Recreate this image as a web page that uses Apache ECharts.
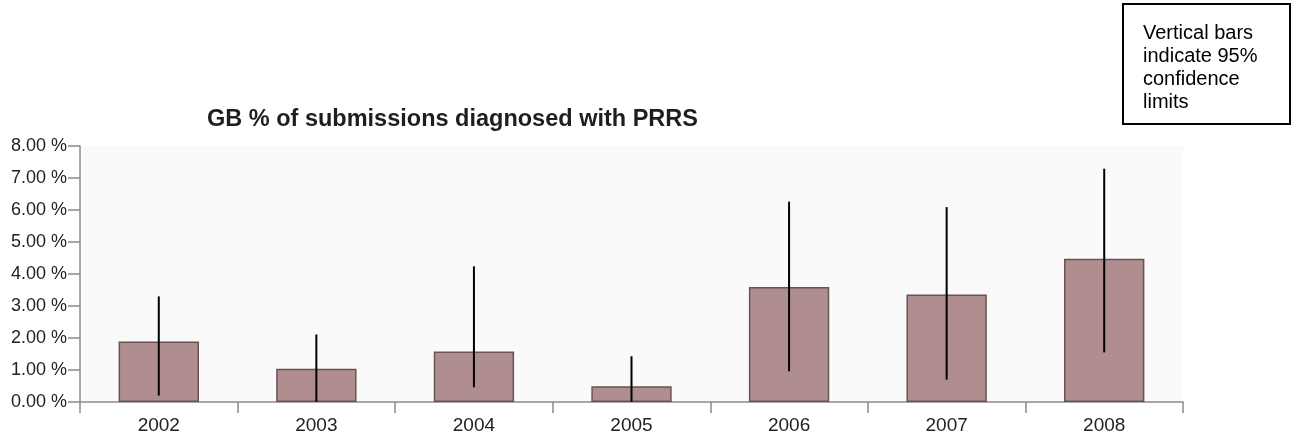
<!DOCTYPE html>
<html>
<head>
<meta charset="utf-8">
<script src="https://cdn.jsdelivr.net/npm/echarts@6/dist/echarts.min.js"></script>
<style>
  html, body { margin: 0; padding: 0; background: #ffffff; }
  #chart { width: 1292px; height: 437px; }
</style>
</head>
<body>
<div id="chart"></div>
<script>
// Percentage of GB submissions diagnosed with PRRS, by year, with 95% confidence limits
const years = ['2002', '2003', '2004', '2005', '2006', '2007', '2008'];
const percent = [1.89, 1.04, 1.58, 0.49, 3.59, 3.36, 4.48];
const lowerLimit = [0.20, 0.01, 0.46, 0.01, 0.96, 0.70, 1.55];
const upperLimit = [3.30, 2.11, 4.24, 1.43, 6.26, 6.09, 7.29];
const yTicks = [0, 1, 2, 3, 4, 5, 6, 7, 8];
const chartTitle = 'GB % of submissions diagnosed with PRRS';
const noteLines = ['Vertical bars', 'indicate 95%', 'confidence', 'limits'];

const FONT = '"Liberation Sans", Arial, sans-serif';
const chart = echarts.init(document.getElementById('chart'), null, { renderer: 'canvas' });

const ciData = years.map((y, i) => [i, lowerLimit[i], upperLimit[i]]);

chart.setOption({
  animation: false,
  backgroundColor: '#ffffff',
  grid: {
    left: 80, right: 109, top: 146, bottom: 35,
    show: true, backgroundColor: '#fafafa', borderWidth: 0
  },
  xAxis: {
    type: 'category',
    data: years,
    boundaryGap: true,
    axisLine: { lineStyle: { color: '#8c8c8c', width: 1.5 } },
    axisTick: { show: true, length: 11, lineStyle: { color: '#8c8c8c', width: 1.5 } },
    axisLabel: { color: '#222', fontFamily: FONT, fontSize: 19, margin: 14 }
  },
  yAxis: {
    type: 'value',
    min: yTicks[0],
    max: yTicks[yTicks.length - 1],
    interval: 1,
    splitLine: { show: false },
    axisLine: { show: true, lineStyle: { color: '#8c8c8c', width: 1.5 } },
    axisTick: { show: true, length: 12, lineStyle: { color: '#8c8c8c', width: 1.5 } },
    axisLabel: {
      color: '#222', fontFamily: FONT, fontSize: 18, margin: 13,
      formatter: v => v.toFixed(2) + ' %'
    }
  },
  series: [
    {
      type: 'bar',
      data: percent,
      barWidth: '51%',
      itemStyle: { color: '#b08e8f', borderColor: '#6a5253', borderWidth: 1.5 }
    },
    {
      type: 'custom',
      data: ciData,
      encode: { x: 0, y: [1, 2] },
      z: 5,
      renderItem: (params, api) => {
        const lo = api.coord([api.value(0), api.value(1)]);
        const hi = api.coord([api.value(0), api.value(2)]);
        return {
          type: 'line',
          shape: { x1: lo[0], y1: lo[1], x2: hi[0], y2: hi[1] },
          style: { stroke: '#000', lineWidth: 2 }
        };
      }
    }
  ],
  graphic: [
    {
      type: 'text',
      left: 207, top: 108,
      style: { text: chartTitle, fill: '#1e1e1e', font: 'bold 23.5px ' + FONT }
    },
    {
      type: 'rect',
      shape: { x: 1123, y: 4, width: 167, height: 120 },
      style: { fill: '#ffffff', stroke: '#000', lineWidth: 2 }
    },
    {
      type: 'text',
      left: 1143, top: 22,
      style: { text: noteLines.join('\n'), fill: '#000', font: '20px ' + FONT, lineHeight: 23 }
    }
  ]
});
</script>
</body>
</html>
